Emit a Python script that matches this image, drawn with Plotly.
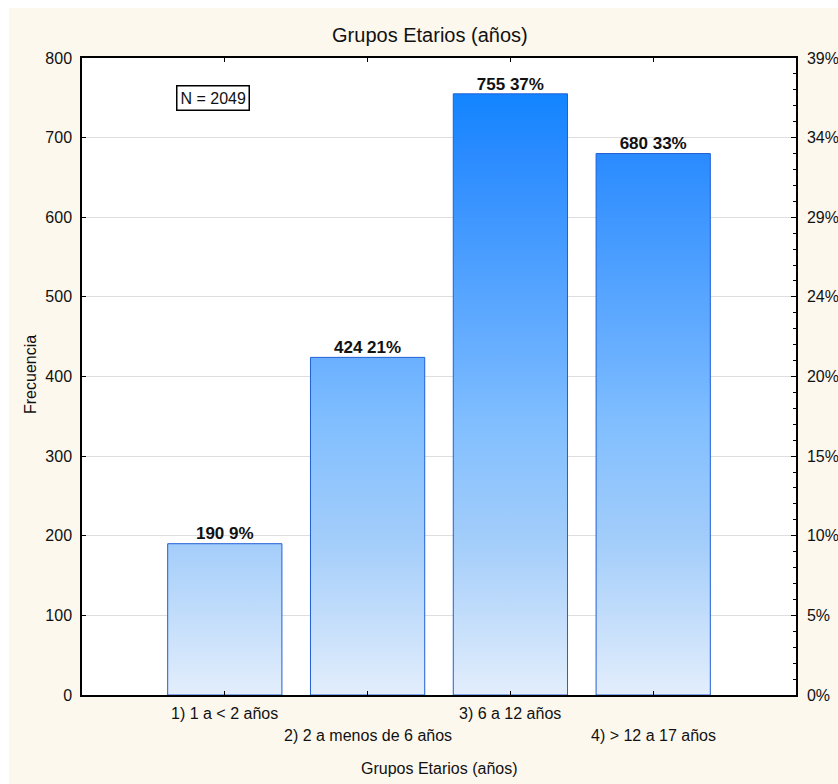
import plotly.graph_objects as go

# Age groups and their frequencies
categories = ["1) 1 a &lt; 2 años", "2) 2 a menos de 6 años", "3) 6 a 12 años", "4) &gt; 12 a 17 años"]
frequencies = [190, 424, 755, 680]
total_n = 2049
left_ticks = [0, 100, 200, 300, 400, 500, 600, 700, 800]

FONT = "Liberation Sans, Arial, sans-serif"
INK = "#111111"
BAR_WIDTH = 0.8
CREAM = "#fdf8ee"
EDGE = "#1f5fd6"

# plot-area geometry in pixels
W, H = 838, 784
L, R, T, B = 82, 42, 58, 89
PW, PH = W - L - R, H - T - B

# Blue gradient that depends on the absolute height on the frequency axis
gradient = [
    [0.0, "#e3eefc"],
    [0.24, "#a3cdfa"],
    [0.43, "#80beff"],
    [0.53, "#6ab0ff"],
    [0.85, "#2a8bff"],
    [0.94, "#1385ff"],
    [1.0, "#0a80ff"],
]

fig = go.Figure()

positions = list(range(len(categories)))
for pos, val in zip(positions, frequencies):
    x0, x1 = pos - BAR_WIDTH / 2, pos + BAR_WIDTH / 2
    fig.add_trace(go.Scatter(
        x=[x0, x0, x1, x1, x0],
        y=[0, val, val, 0, 0],
        mode="lines",
        fill="toself",
        fillgradient=dict(type="vertical", colorscale=gradient, start=0, stop=800),
        line=dict(color=EDGE, width=1),
        hoverinfo="skip",
        showlegend=False,
    ))

# Value and percentage labels above each bar
labels = [f"<b>{v} {round(v / total_n * 100)}%</b>" for v in frequencies]
fig.add_trace(go.Scatter(
    x=positions,
    y=frequencies,
    mode="text",
    text=labels,
    textposition="top center",
    textfont=dict(family=FONT, size=17, color=INK),
    hoverinfo="skip",
    showlegend=False,
))

# Invisible trace so the percentage axis is drawn
fig.add_trace(go.Scatter(x=[0], y=[0], yaxis="y2", mode="markers",
                         marker=dict(opacity=0), hoverinfo="skip", showlegend=False))

pct_text = [f"{round(t / total_n * 100)}%" for t in left_ticks]

# Staggered category labels under the axis: odd entries on a second row
annotations = []
for i, (pos, cat) in enumerate(zip(positions, categories)):
    row_y = 713 if i % 2 == 0 else 735
    annotations.append(dict(
        text=cat, x=pos, xref="x", y=(H - B - row_y) / PH, yref="paper",
        xanchor="center", yanchor="middle", showarrow=False,
        font=dict(family=FONT, size=16, color=INK),
    ))

annotations += [
    dict(text="Grupos Etarios (años)", xref="paper", yref="paper",
         x=0.5, y=(H - B - 768) / PH, xanchor="center", yanchor="middle",
         showarrow=False, font=dict(family=FONT, size=16, color=INK)),
    dict(text="Frecuencia", xref="paper", yref="paper",
         x=(30 - L) / PW, y=(H - B - 375) / PH, xanchor="center", yanchor="middle",
         textangle=-90, showarrow=False, font=dict(family=FONT, size=16, color=INK)),
    dict(text="N = 2049", xref="paper", yref="paper",
         x=(176 - L) / PW, y=(H - B - 98) / PH, xanchor="left", yanchor="middle",
         showarrow=False, font=dict(family=FONT, size=16, color=INK),
         bordercolor="black", borderwidth=1.5, borderpad=3, bgcolor="white"),
]

fig.update_layout(
    width=W, height=H,
    margin=dict(l=L, r=R, t=T, b=B, autoexpand=False),
    paper_bgcolor="white",
    plot_bgcolor="white",
    font=dict(family=FONT, size=16, color=INK),
    title=dict(text="Grupos Etarios (años)", x=0.513, xanchor="center",
               y=1 - 35 / H, yanchor="middle",
               font=dict(family=FONT, size=20, color=INK)),
    xaxis=dict(
        range=[-1, 4],
        tickvals=positions,
        showticklabels=False,
        ticks="inside", ticklen=4, tickcolor="black",
        showline=True, linecolor="black", linewidth=1.5, mirror="ticks",
        showgrid=False, zeroline=False, automargin=False,
    ),
    yaxis=dict(
        range=[0, 800],
        tickvals=left_ticks,
        ticks="inside", ticklen=4, tickcolor="black",
        showline=True, linecolor="black", linewidth=1.5,
        showgrid=True, gridcolor="#dedede", gridwidth=1,
        zeroline=False, automargin=False,
        tickfont=dict(size=16), ticklabelstandoff=5,
    ),
    yaxis2=dict(
        overlaying="y", side="right",
        range=[0, 800],
        tickvals=left_ticks,
        ticktext=pct_text,
        ticks="inside", ticklen=5, tickcolor="black",
        minor=dict(dtick=20, ticks="inside", ticklen=3, tickcolor="black"),
        showline=True, linecolor="black", linewidth=1.5,
        showgrid=False, zeroline=False, automargin=False,
        tickfont=dict(size=16), ticklabelstandoff=6,
    ),
    shapes=[
        # cream page panel with a thin white margin at the top and left
        dict(type="rect", xref="paper", yref="paper", layer="below",
             x0=(9 - L) / PW, x1=(W - L) / PW, y0=-B / PH, y1=(H - B - 8) / PH,
             fillcolor=CREAM, line=dict(width=0)),
        dict(type="rect", xref="paper", yref="paper", layer="below",
             x0=0, x1=1, y0=0, y1=1, fillcolor="white", line=dict(width=0)),
    ],
    annotations=annotations,
)

fig.write_html("out.html")
